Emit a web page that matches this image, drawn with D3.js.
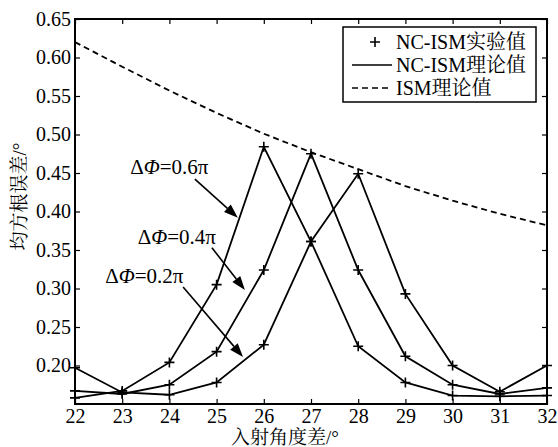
<!DOCTYPE html>
<meta charset="utf-8">
<style>
  body { margin: 0; background: #fff; }
  .line { fill: none; stroke: #000; stroke-width: 1.8px; }
</style>
<body>
<script src="https://d3js.org/d3.v7.min.js"></script>
<script>
// incidence angle difference (deg)
var angles = [22, 23, 24, 25, 26, 27, 28, 29, 30, 31, 32];
// NC-ISM values for three phase differences
var phi06 = [0.158, 0.167, 0.204, 0.305, 0.484, 0.361, 0.225, 0.178, 0.161, 0.160, 0.161];
var phi04 = [0.167, 0.163, 0.175, 0.218, 0.324, 0.475, 0.324, 0.212, 0.175, 0.163, 0.171];
var phi02 = [0.197, 0.165, 0.162, 0.178, 0.227, 0.361, 0.449, 0.293, 0.200, 0.166, 0.200];
// ISM theory
var ism = [0.620, 0.588, 0.557, 0.528, 0.501, 0.477, 0.455, 0.433, 0.414, 0.397, 0.382];

var yTicks = [0.20, 0.25, 0.30, 0.35, 0.40, 0.45, 0.50, 0.55, 0.60, 0.65];
var legendLabels = ["NC-ISM实验值", "NC-ISM理论值", "ISM理论值"];

// annotation labels, in data units: text anchor and arrow start/end
var notes = [
  { label: "0.6π", tx: 23.17, ty: 0.449, x1: 24.54, y1: 0.442, x2: 25.45, y2: 0.392 },
  { label: "0.4π", tx: 23.33, ty: 0.358, x1: 24.90, y1: 0.353, x2: 25.60, y2: 0.298 },
  { label: "0.2π", tx: 22.64, ty: 0.307, x1: 24.29, y1: 0.302, x2: 25.56, y2: 0.211 }
];

var font = "'Liberation Serif', 'Noto Serif CJK SC', serif";

var margin = { top: 19, right: 11, bottom: 43, left: 75 },
  width = 558 - margin.left - margin.right,
  height = 447 - margin.top - margin.bottom;

var x = d3.scaleLinear().domain([22, 32]).range([0, width]);
var y = d3.scaleLinear().domain([0.15, 0.65]).range([height, 0]);

var svg = d3.select("body").append("svg")
  .attr("width", 558)
  .attr("height", 447)
  .append("g")
  .attr("transform", "translate(" + margin.left + "," + margin.top + ")");

// axes, ticks pointing inwards
var xAxis = svg.append("g")
  .attr("transform", "translate(0," + height + ")")
  .call(d3.axisBottom(x).tickValues(angles).tickSize(-5).tickPadding(5).tickFormat(d3.format("d")));
var xTop = svg.append("g")
  .call(d3.axisTop(x).tickValues(angles).tickSize(-5).tickFormat(""));
var yAxis = svg.append("g")
  .call(d3.axisLeft(y).tickValues(yTicks).tickSize(-5).tickPadding(4).tickFormat(d3.format(".2f")));
var yRight = svg.append("g")
  .attr("transform", "translate(" + width + ",0)")
  .call(d3.axisRight(y).tickValues(yTicks).tickSize(-5).tickFormat(""));

[xAxis, xTop, yAxis, yRight].forEach(function (g) {
  g.select(".domain").remove();
  g.selectAll("line").attr("stroke", "#000").attr("stroke-width", 1.2);
  g.selectAll("text").style("font-family", font).style("font-size", "20px").attr("fill", "#000");
});

svg.append("rect")
  .attr("width", width).attr("height", height)
  .attr("fill", "none").attr("stroke", "#000").attr("stroke-width", 2);

// axis titles
svg.append("text")
  .attr("x", width / 2 - 26)
  .attr("y", height + 40)
  .attr("text-anchor", "middle")
  .style("font-family", font).style("font-size", "19px")
  .text("入射角度差/°");

svg.append("text")
  .attr("transform", "translate(" + (-49) + "," + (height / 2 - 15) + ") rotate(-90)")
  .attr("text-anchor", "middle")
  .style("font-family", font).style("font-size", "19px")
  .text("均方根误差/°");

var pts = function (vals) {
  return angles.map(function (a, i) { return [a, vals[i]]; });
};

var line = d3.line()
  .x(function (d) { return x(d[0]); })
  .y(function (d) { return y(d[1]); });

// ISM dashed
svg.append("path")
  .datum(pts(ism))
  .attr("class", "line")
  .attr("stroke-dasharray", "6,4")
  .attr("d", line);

var series = [phi06, phi04, phi02];
series.forEach(function (s) {
  svg.append("path")
    .datum(pts(s))
    .attr("class", "line")
    .attr("d", line);
});

// + markers
function plus(g, cx, cy) {
  g.append("path")
    .attr("d", "M" + (cx - 5) + "," + cy + "H" + (cx + 5) + "M" + cx + "," + (cy - 5) + "V" + (cy + 5))
    .attr("stroke", "#000").attr("stroke-width", 1.6).attr("fill", "none");
}
series.forEach(function (s) {
  pts(s).forEach(function (p) { plus(svg, x(p[0]), y(p[1])); });
});

// annotations with arrows
notes.forEach(function (n) {
  var t = svg.append("text")
    .attr("x", x(n.tx)).attr("y", y(n.ty))
    .style("font-family", font).style("font-size", "21px");
  t.append("tspan").text("Δ");
  t.append("tspan").style("font-style", "italic").text("Φ");
  t.append("tspan").text("=" + n.label);

  var ax1 = x(n.x1), ay1 = y(n.y1), ax2 = x(n.x2), ay2 = y(n.y2);
  var ang = Math.atan2(ay2 - ay1, ax2 - ax1);
  var len = 14, hw = 5;
  var bx = ax2 - len * Math.cos(ang), by = ay2 - len * Math.sin(ang);
  svg.append("line")
    .attr("x1", ax1).attr("y1", ay1).attr("x2", bx).attr("y2", by)
    .attr("stroke", "#000").attr("stroke-width", 1.6);
  svg.append("path")
    .attr("d", "M" + ax2 + "," + ay2 +
      "L" + (bx + hw * Math.sin(ang)) + "," + (by - hw * Math.cos(ang)) +
      "L" + (bx - hw * Math.sin(ang)) + "," + (by + hw * Math.cos(ang)) + "Z")
    .attr("fill", "#000");
});

// legend
var lx = x(22) + 268, ly = 8;
var legend = svg.append("g").attr("transform", "translate(" + lx + "," + ly + ")");
legend.append("rect")
  .attr("width", 193).attr("height", 75)
  .attr("fill", "#fff").attr("stroke", "#000").attr("stroke-width", 1.5);
legendLabels.forEach(function (lab, i) {
  var cy = 15 + i * 23;
  if (i === 0) plus(legend, 32, cy);
  else {
    legend.append("line")
      .attr("x1", 9).attr("x2", 49).attr("y1", cy).attr("y2", cy)
      .attr("stroke", "#000").attr("stroke-width", 1.6)
      .attr("stroke-dasharray", i === 2 ? "6,4" : null);
  }
  legend.append("text")
    .attr("x", 53).attr("y", cy + 7)
    .style("font-family", font).style("font-size", "20px")
    .text(lab);
});
</script>
</body>
